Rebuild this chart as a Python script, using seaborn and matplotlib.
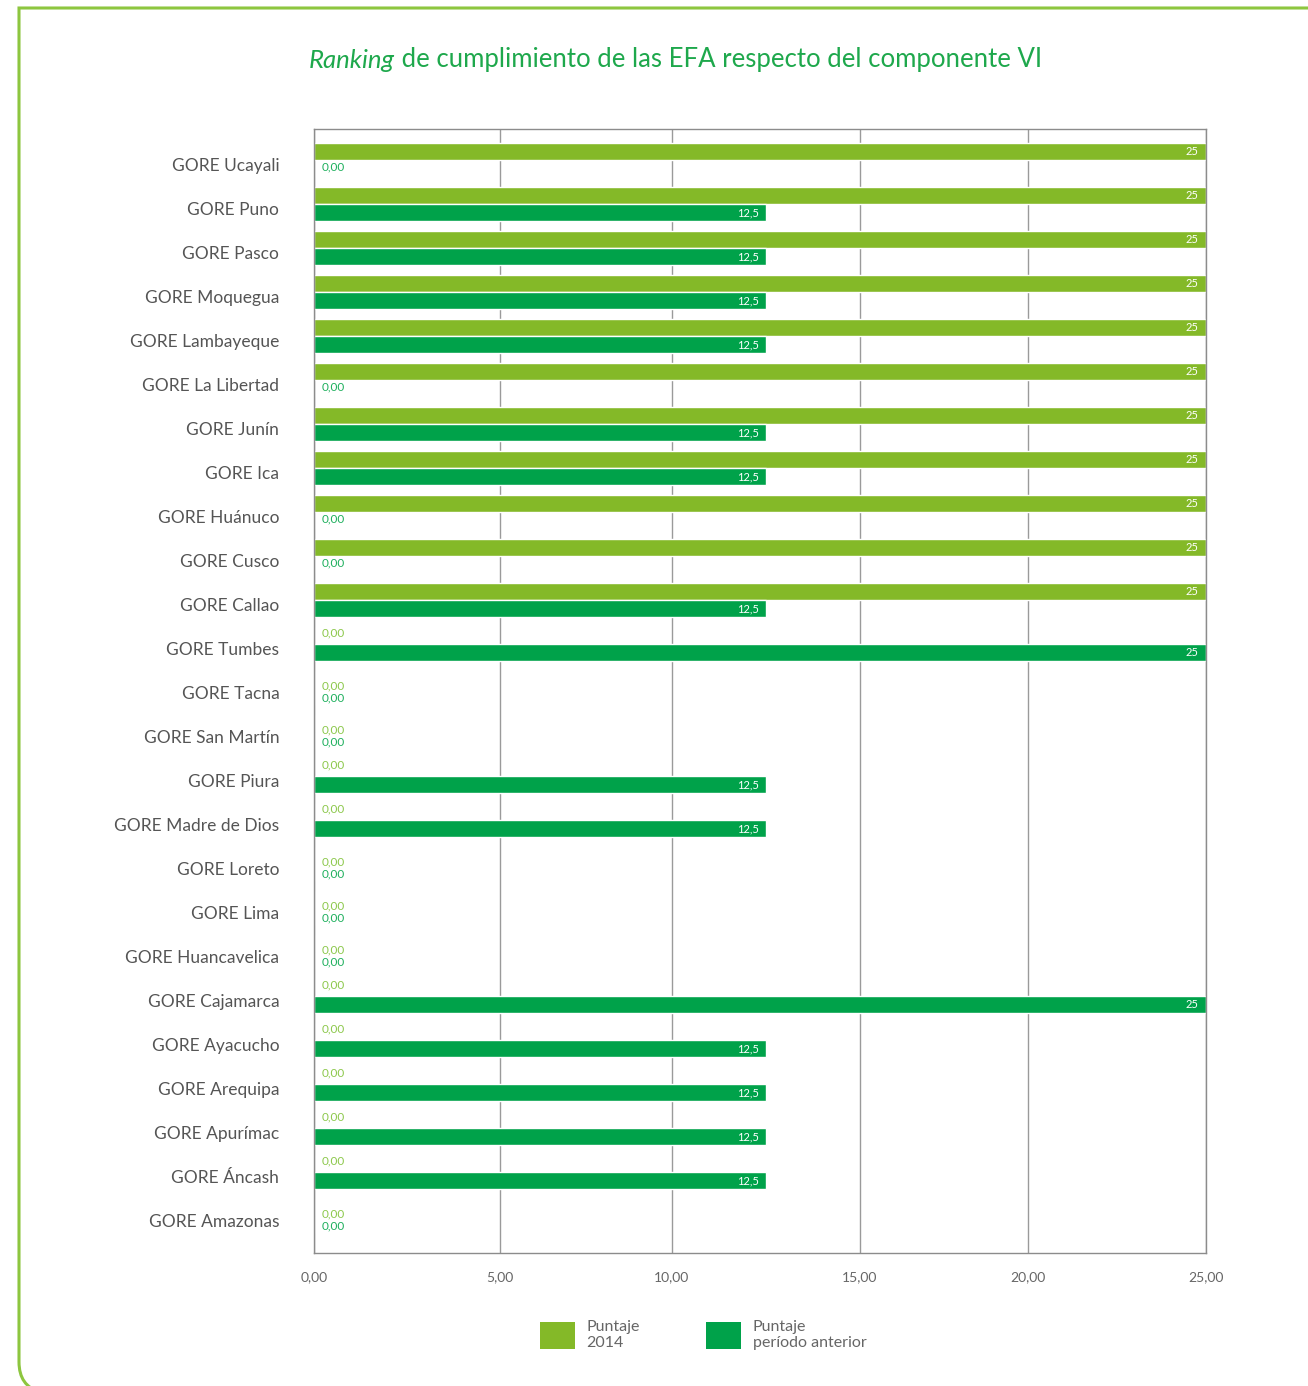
import matplotlib
matplotlib.use("Agg")
import matplotlib.pyplot as plt
from matplotlib.patches import Patch, PathPatch
from matplotlib.path import Path
from matplotlib.transforms import ScaledTranslation
import seaborn as sns
import pandas as pd
import numpy as np

# ---------------- data ----------------
categories = ["GORE Ucayali", "GORE Puno", "GORE Pasco", "GORE Moquegua", "GORE Lambayeque",
              "GORE La Libertad", "GORE Junín", "GORE Ica", "GORE Huánuco", "GORE Cusco",
              "GORE Callao", "GORE Tumbes", "GORE Tacna", "GORE San Martín", "GORE Piura",
              "GORE Madre de Dios", "GORE Loreto", "GORE Lima", "GORE Huancavelica",
              "GORE Cajamarca", "GORE Ayacucho", "GORE Arequipa", "GORE Apurímac",
              "GORE Áncash", "GORE Amazonas"]
puntaje_2014 = [25, 25, 25, 25, 25, 25, 25, 25, 25, 25, 25,
                0, 0, 0, 0, 0, 0, 0, 0, 0, 0, 0, 0, 0, 0]
puntaje_anterior = [0, 12.5, 12.5, 12.5, 12.5, 0, 12.5, 12.5, 0, 0, 12.5,
                    25, 0, 0, 12.5, 12.5, 0, 0, 0, 25, 12.5, 12.5, 12.5, 12.5, 0]
series_names = ["Puntaje\n2014", "Puntaje\nperíodo anterior"]
x_ticks = [0, 5, 10, 15, 20, 25]
x_tick_labels = ["0,00", "5,00", "10,00", "15,00", "20,00", "25,00"]
title_italic = "Ranking"
title_rest = " de cumplimiento de las EFA respecto del componente VI"

# ---------------- style ----------------
LIGHT = "#84B928"
DARK = "#00A24A"
LIGHT_TXT = "#8CC84B"
DARK_TXT = "#1DAF5C"
TITLE_C = "#1EA84C"
GRAY_TXT = "#555555"
FRAME_C = "#8DC63F"

# the original's x axis is slightly uneven between gridlines (relative positions)
grid_pos = [0.0, 0.2085, 0.4013, 0.6121, 0.8004, 1.0]

sns.set_style("white")
plt.rcParams["font.family"] = ["Lato", "DejaVu Sans"]

W, H = 1308, 1386
fig = plt.figure(figsize=(W / 100, H / 100), dpi=100)
fx = lambda px: px / W
fy = lambda py: 1 - py / H

ax = fig.add_axes([fx(314), fy(1253), fx(1206) - fx(314), fy(129) - fy(1253)])

df = pd.DataFrame({
    "GORE": categories * 2,
    "serie": [series_names[0]] * len(categories) + [series_names[1]] * len(categories),
    "valor": puntaje_2014 + puntaje_anterior,
})

sns.barplot(data=df, y="GORE", x="valor", hue="serie", orient="h",
            palette=[LIGHT, DARK], saturation=1, width=0.77, errorbar=None,
            order=categories, hue_order=series_names, ax=ax, legend=False)

fwd = lambda v: np.interp(v, x_ticks, grid_pos, left=-1e-3, right=1 + 1e-3)
inv = lambda u: np.interp(u, grid_pos, x_ticks)
ax.set_xscale("function", functions=(fwd, inv))
ax.set_xlim(0, 25)
ax.set_ylim(24.84, -0.705)
ax.set_xticks(x_ticks)
ax.set_xticklabels(x_tick_labels, fontsize=10, color="#666666")
ax.xaxis.set_minor_locator(matplotlib.ticker.NullLocator())
ax.tick_params(axis="x", length=0, pad=13)
ax.tick_params(axis="y", length=0, pad=25, labelsize=12.5, labelcolor=GRAY_TXT)
for lab in ax.get_yticklabels():
    lab.set_transform(lab.get_transform() + ScaledTranslation(0, -4 / 100, fig.dpi_scale_trans))
ax.set_xlabel("")
ax.set_ylabel("")
ax.xaxis.grid(True, color="#9a9a9a", lw=1)
ax.yaxis.grid(False)
ax.set_axisbelow(True)
for sp in ax.spines.values():
    sp.set_visible(True)
    sp.set_color("#8c8c8c")
    sp.set_linewidth(1)


def fmt(v):
    if float(v).is_integer():
        return f"{int(v)}"
    return f"{v}".replace(".", ",")


# value labels
for si, cont in enumerate(ax.containers):
    other = puntaje_anterior if si == 0 else puntaje_2014
    for i, p in enumerate(cont.patches):
        w = p.get_width()
        yc = p.get_y() + p.get_height() / 2
        if w > 0:
            ax.text(w - 0.2, yc, fmt(w), ha="right", va="center",
                    fontsize=8, color="white")
        else:
            if si == 0:
                y = i - (0.05 if other[i] == 0 else 0.25)
                c = LIGHT_TXT
            else:
                y = i + (0.22 if other[i] == 0 else 0.16)
                c = DARK_TXT
            ax.text(0.2, y, "0,00", ha="left", va="center", fontsize=8.5, color=c)

# title
t1 = fig.text(fx(309), fy(60), title_italic, fontsize=18.5, style="italic",
              color=TITLE_C, ha="left", va="center")
ax.annotate(title_rest, xy=(1, 0), xycoords=t1, ha="left", va="bottom",
            fontsize=18.5, color=TITLE_C, annotation_clip=False)

# legend
handles = [Patch(facecolor=LIGHT, edgecolor="none"), Patch(facecolor=DARK, edgecolor="none")]
leg = fig.legend(handles, series_names, loc="center", bbox_to_anchor=(fx(703), fy(1335)),
                 ncol=2, frameon=False, fontsize=11.5, handlelength=2.2, handleheight=2.2,
                 handletextpad=0.75, columnspacing=4.1, borderpad=0, labelspacing=0)
for t in leg.get_texts():
    t.set_color("#666666")
    t.set_linespacing(1.15)

# frame (open at right/bottom, rounded bottom-left corner)
verts = [(fx(1320), fy(8)), (fx(19), fy(8)), (fx(19), fy(1362)),
         (fx(19), fy(1386)), (fx(40), fy(1392))]
codes = [Path.MOVETO, Path.LINETO, Path.LINETO, Path.CURVE3, Path.CURVE3]
fig.add_artist(PathPatch(Path(verts, codes), transform=fig.transFigure,
                         facecolor="none", edgecolor=FRAME_C, lw=2.2, clip_on=False))

fig.savefig("out.png", dpi=100)
